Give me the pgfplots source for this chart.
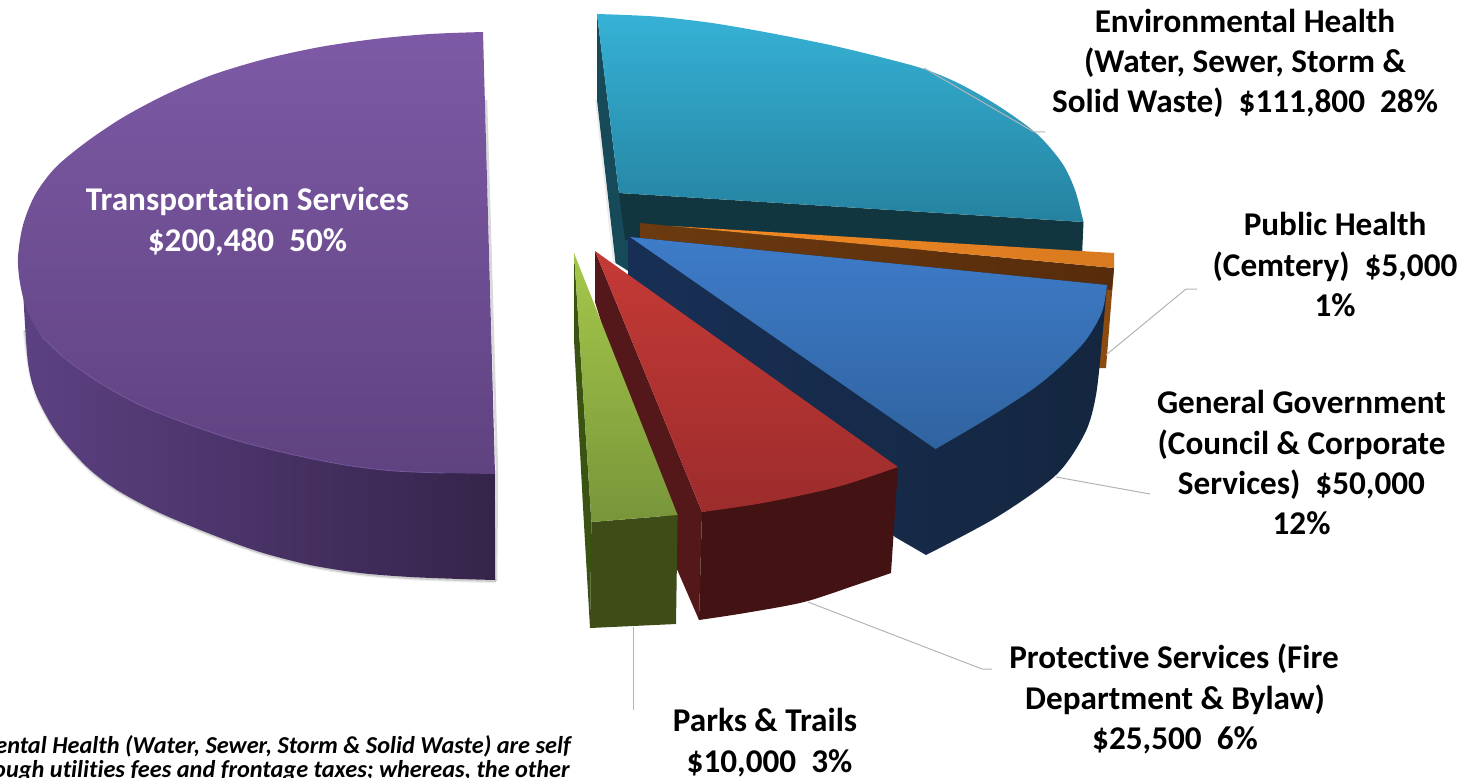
\documentclass[border=0pt]{standalone}
\usepackage{pgfplots}
\pgfplotsset{compat=1.18}
\usepackage{fontspec}
\setmainfont{Carlito}[Ligatures=NoCommon]
\definecolor{lead}{HTML}{B4B4B4}
\definecolor{purpleL}{HTML}{5C4182}
\definecolor{purpleR}{HTML}{35244A}
\definecolor{purpleT}{HTML}{7E5AA6}
\definecolor{purpleB}{HTML}{5F4280}
\definecolor{purpleH}{HTML}{7558A0}
\definecolor{tealS}{HTML}{174A59}
\definecolor{tealF}{HTML}{12363F}
\definecolor{tealT}{HTML}{36B2D6}
\definecolor{tealB}{HTML}{2582A0}
\definecolor{orangeS}{HTML}{8A4A10}
\definecolor{orangeL}{HTML}{F58A22}
\definecolor{orangeR}{HTML}{D87A20}
\definecolor{brownL}{HTML}{6B3A10}
\definecolor{brownR}{HTML}{572C0B}
\definecolor{blueSL}{HTML}{182F55}
\definecolor{blueSR}{HTML}{14263F}
\definecolor{blueT}{HTML}{3E7CC9}
\definecolor{blueB}{HTML}{3063A0}
\definecolor{redS}{HTML}{54181A}
\definecolor{redF}{HTML}{431212}
\definecolor{redT}{HTML}{C53A36}
\definecolor{redB}{HTML}{9C2C2C}
\definecolor{greenS}{HTML}{3A5212}
\definecolor{greenF}{HTML}{3E4D18}
\definecolor{greenT}{HTML}{A5C84A}
\definecolor{greenB}{HTML}{78963A}
% label: optional colour, baseline position, text
\newcommand{\lab}[3][black]{\node[text=#1,font=\fontsize{33.2}{33}\selectfont\bfseries,inner sep=0pt,anchor=base] at (axis cs:#2) {#3};}
\begin{document}
\begin{tikzpicture}
\clip (0,0) rectangle (1463pt,778pt);
\begin{axis}[
  scale only axis, width=1463pt, height=778pt,
  xmin=0, xmax=1463, ymin=0, ymax=778, y dir=reverse,
  hide axis, clip=false,
]
% ---- Transportation Services ----
\addplot[smooth, draw=gray, line width=4.5pt, opacity=.14, forget plot] coordinates {
 (25,330)(29,363)(38,398)(58,434)(88,468)(118,491)(161,514)(214,536)(261,553)(311,566)(361,574)(411,578)(461,580)(496,581)};
\addplot[smooth, draw=gray, line width=2pt, opacity=.3, forget plot] coordinates {
 (25,330)(29,363)(38,398)(58,434)(88,468)(118,491)(161,514)(214,536)(261,553)(311,566)(361,574)(411,578)(461,580)(496,581)};
\addplot[draw=gray, line width=2.5pt, opacity=.3, forget plot] coordinates {(496,581)(497,474)(486,100)};
\addplot[smooth, draw=none, left color=purpleL, right color=purpleR, forget plot] coordinates {
 (23,290)(28,363)(37,397)(57,433)(87,467)(117,490)(160,513)(213,535)(260,552)(310,565)(360,573)(410,577)(460,579)(495,580)} -- (axis cs:495,470) -- (axis cs:260,440) --cycle;
\addplot[smooth, draw=none, top color=purpleT, bottom color=purpleB, forget plot] coordinates {
 (483,32)(430,34)(375,39)(320,47)(265,59)(212,75)(165,95)(122,118)(85,143)(55,168)(35,195)(23,225)(18,257)(20,283)(27,310)(42,337)(67,360)(100,383)(140,405)(185,423)(235,440)(290,454)(345,465)(395,471)(445,473)(495,474)} --cycle;
\addplot[smooth, draw=purpleH, line width=.8pt, forget plot] coordinates {
 (42,337)(67,360)(100,383)(140,405)(185,423)(235,440)(290,454)(345,465)(395,471)(445,473)};
% ---- Environmental Health ----
\addplot[draw=gray, line width=2pt, opacity=.15, forget plot] coordinates {(596,100)(614,263)};
\addplot[fill=tealS, draw=none, forget plot] coordinates {
 (597,14)(597,100)(615.5,263)(630,272)(640,240)(619,193)} --cycle;
\addplot[fill=tealF, draw=none, forget plot] coordinates {
 (619,193)(1083.5,222)(1082,256)(640,240)(625,240)} --cycle;
\addplot[smooth, draw=none, top color=tealT, bottom color=tealB, forget plot] coordinates {
 (597,14)(655,16.5)(712,23)(770,33)(830,45)(880,57)(924,69)(960,84)(1000,107)(1037,134)(1062,163)(1075,190)(1083.5,222)} -- (axis cs:619,193) --cycle;
% ---- Public Health ----
\addplot[fill=orangeS, draw=none, forget plot] coordinates {
 (1114,268)(1106,368)(1098,368)(1098,280)} --cycle;
\addplot[draw=none, left color=brownL, right color=brownR, forget plot] coordinates {
 (640,223)(671,226)(1114,268)(1112,290)(640,240)} --cycle;
\addplot[draw=none, left color=orangeL, right color=orangeR, forget plot] coordinates {
 (671,226)(1114,253)(1114,268)} --cycle;
% ---- General Government ----
\addplot[smooth, draw=none, left color=blueSL, right color=blueSR, forget plot] coordinates {
 (1107,285)(1102,340)(1096,395)(1085,433)(1056,475)(997,517)(926,555)} -- (axis cs:895,537) -- (axis cs:628,277) -- (axis cs:628,237) -- (axis cs:630,237) --cycle;
\addplot[smooth, draw=none, top color=blueT, bottom color=blueB, forget plot] coordinates {
 (1107,285)(1102,312)(1086,340)(1062,365)(1033,389)(985,420)(935.5,449)} -- (axis cs:630,237) --cycle;
% ---- Protective Services ----
\addplot[fill=redS, draw=none, forget plot] coordinates {
 (595,251)(702,512)(699,620)(676,567)(595,302)} --cycle;
\addplot[smooth, fill=redF, draw=none, forget plot] coordinates {
 (891,573)(856,585)(804,602)(745,613)(699,620)} -- (axis cs:702,512) -- (axis cs:898,467) --cycle;
\addplot[smooth, draw=none, top color=redT, bottom color=redB, forget plot] coordinates {
 (898,467)(837,487)(763,503)(702,512)} -- (axis cs:595,251) --cycle;
% ---- Parks & Trails ----
\addplot[fill=greenS, draw=none, forget plot] coordinates {
 (574,253)(574,340)(583,507)(590,628)(591.4,522)} --cycle;
\addplot[fill=greenF, draw=none, forget plot] coordinates {
 (591.4,522)(677.6,515)(676,624)(590,628)} --cycle;
\addplot[draw=none, top color=greenT, bottom color=greenB, forget plot] coordinates {
 (574,253)(677.6,515)(591.4,522)} --cycle;
% ---- Leader lines ----
\addplot[draw=lead, line width=1pt, forget plot] coordinates {(924,68)(1034,132)(1045,132)};
\addplot[draw=lead, line width=1pt, forget plot] coordinates {(1106,355)(1186,289)(1197,289)};
\addplot[draw=lead, line width=1pt, forget plot] coordinates {(1056,477)(1150,494)};
\addplot[draw=lead, line width=1pt, forget plot] coordinates {(808,602)(982,669)(992,669)};
\addplot[draw=lead, line width=1pt, forget plot] coordinates {(633,627)(633,710)};
% ---- Labels ----
\lab{1245,32.5}{Environmental Health}
\lab{1245,73}{(Water, Sewer, Storm \&}
\lab{1245,112.5}{Solid Waste)\ \ \$111,800\ \ 28\%}
\lab{1335,235.5}{Public Health}
\lab{1335,276}{(Cemtery)\ \ \$5,000}
\lab{1335,316}{1\%}
\lab{1301.5,413.5}{General Government}
\lab{1301.5,454.5}{(Council \& Corporate}
\lab{1301.5,494.5}{Services)\ \ \$50,000}
\lab{1301.5,534.5}{12\%}
\lab{1174,668.5}{Protective Services (Fire}
\lab{1175,709.5}{Department \& Bylaw)}
\lab{1175,749}{\$25,500\ \ 6\%}
\lab{765,731}{Parks \& Trails}
\lab{769.5,772}{\$10,000\ \ 3\%}
\lab[white]{247.5,210}{Transportation Services}
\lab[white]{247.5,251}{\$200,480\ \ 50\%}
\node[anchor=base east,inner sep=0pt,font=\fontsize{24.3}{24}\selectfont\bfseries\itshape] at (axis cs:571,753) {Environmental Health (Water, Sewer, Storm \& Solid Waste) are self};
\node[anchor=base east,inner sep=0pt,font=\fontsize{24.3}{24}\selectfont\bfseries\itshape] at (axis cs:570,777) {funded through utilities fees and frontage taxes; whereas, the other};
\end{axis}
\end{tikzpicture}
\end{document}
